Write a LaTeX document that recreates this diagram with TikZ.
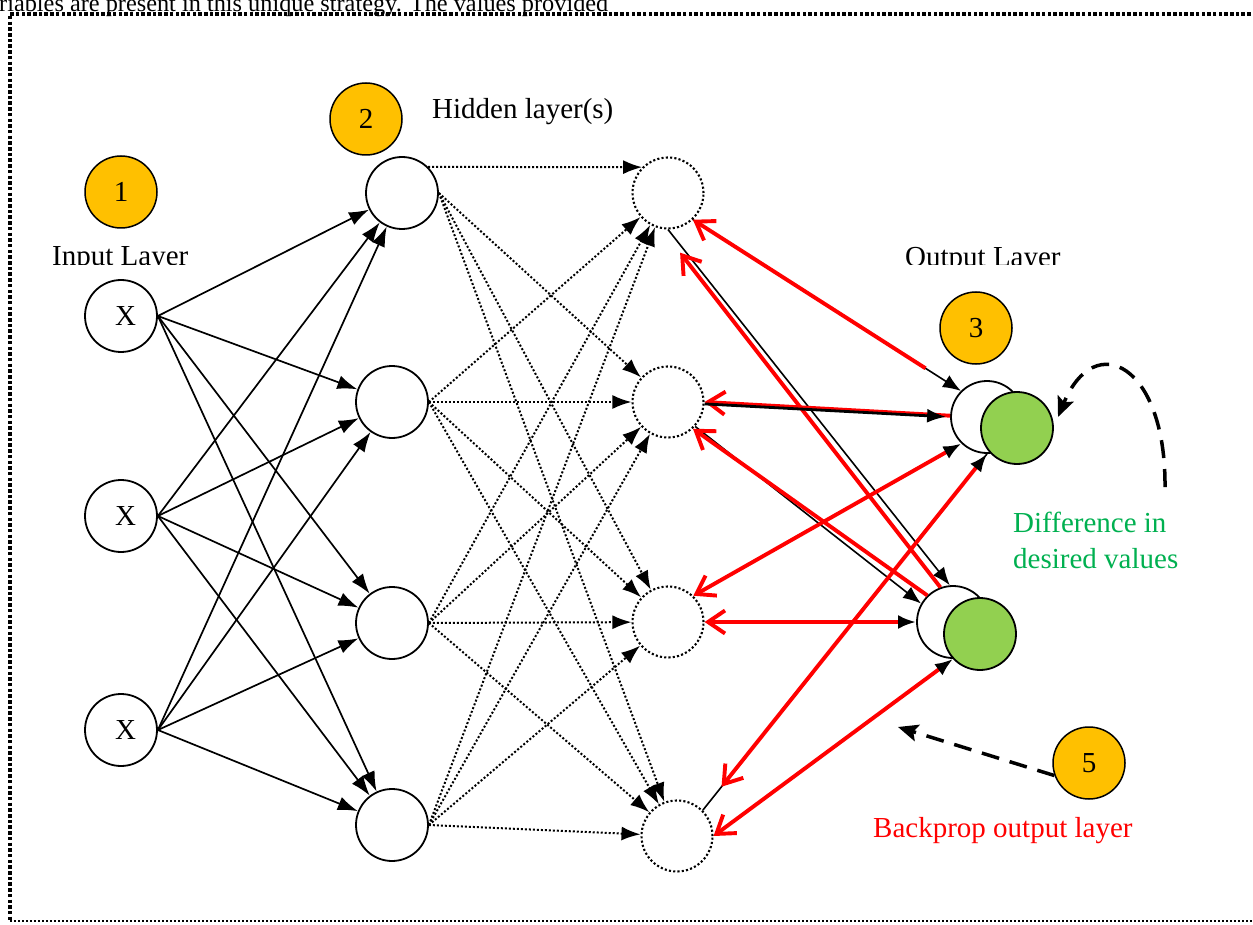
\documentclass[tikz,border=0pt]{standalone}
\usepackage{fontspec}
\setmainfont{Liberation Serif}
\usetikzlibrary{arrows.meta}
\definecolor{gold}{HTML}{FFC000}
\definecolor{lgreen}{HTML}{92D050}
\definecolor{tgreen}{HTML}{00B050}
\definecolor{bred}{HTML}{FF0000}
\begin{document}
\begin{tikzpicture}[x=1pt,y=-1pt,
  big/.style={font=\fontsize{29}{34}\selectfont},
  lbl/.style={big, inner sep=0pt, anchor=base west},
  badge/.style={circle, draw, line width=1.5pt, fill=gold, minimum size=72pt, inner sep=0pt, big},
  neuron/.style={circle, draw, line width=1.8pt, fill=white, minimum size=72pt, inner sep=0pt, big},
  dneuron/.style={circle, draw, line width=2.1pt, dash pattern=on 2.1pt off 2.2pt, minimum size=71pt, inner sep=0pt},
  gneuron/.style={circle, draw, line width=1.8pt, fill=lgreen, minimum size=72pt, inner sep=0pt},
  frame/.style={line width=3.5pt, dash pattern=on 3.5pt off 2.2pt},
  framebot/.style={line width=2pt, dash pattern=on 2pt off 2pt},
  fwd/.style={line width=1.7pt, -{Latex[length=20pt,width=14pt]}},
  dfwd/.style={line width=2pt, dash pattern=on 2pt off 2pt, -{Latex[length=19pt,width=14pt]}},
  ofwd/.style={line width=1.6pt, -{Latex[length=18pt,width=14pt]}},
  back/.style={draw=bred, line width=3.9pt, -{Straight Barb[length=17pt,width=23pt]}},
  backh/.style={draw=bred, line width=3.9pt, {Latex[black,length=18pt,width=14pt]}-{Straight Barb[length=17pt,width=23pt]}},
  dasharr/.style={line width=3.5pt, dash pattern=on 18pt off 11pt, -{Stealth[length=20pt,width=17pt,inset=4pt]}}
]
\useasboundingbox (0,0) rectangle (1253,925);

% frame
\draw[frame] (1262,14) -- (10,14) -- (10,921);
\draw[framebot] (10,921) -- (1262,921);

% top text
\node[inner sep=0pt, anchor=base west, font=\fontsize{24.3}{28}\selectfont] (toptext) at (-1,12) {riables are present in this unique strategy. The values provided};

% badges and labels
\node[badge] (b1) at (121,192) {1};
\node[badge] (b2) at (366,119) {2};
\node[badge] (b3) at (976,328) {3};
\node[badge] (b5) at (1089,763) {5};
\node[lbl] (hidlbl) at (432,119) {Hidden layer(s)};
\begin{scope}
  \clip (0,0) rectangle (1253,265);
  \node[lbl] (inlbl) at (52,266) {Input Layer};
  \node[lbl] (outlbl) at (905,267) {Output Layer};
\end{scope}
\node[lbl, text=tgreen] (diff1) at (1013,532) {Difference in};
\node[lbl, text=tgreen] (diff2) at (1013,568) {desired values};
\node[lbl, text=bred] (bp) at (873,837) {Backprop output layer};

% input layer
\node[neuron] (x1) at (121,316) {\hspace*{9pt}X};
\node[neuron] (x2) at (121,516) {\hspace*{9pt}X};
\node[neuron] (x3) at (121,730) {\hspace*{9pt}X};

% hidden layer 1
\node[neuron] (h11) at (402,193) {};
\node[neuron] (h12) at (392,402) {};
\node[neuron] (h13) at (392,623) {};
\node[neuron] (h14) at (392,825) {};

% hidden layer 2
\node[dneuron] (h21) at (668,193) {};
\node[dneuron] (h22) at (668,402) {};
\node[dneuron] (h23) at (668,622) {};
\node[dneuron] (h24) at (677,836) {};

% output layer
\node[neuron] (o1w) at (987,417) {};
\node[gneuron] (o1g) at (1017,428) {};
\node[neuron] (o2w) at (953,622) {};
\node[gneuron] (o2g) at (980,634) {};

% input -> hidden 1
\foreach \i in {1,2,3}{
  \foreach \j in {1,2,3,4}{
    \draw[fwd] (x\i.east) -- (h1\j);
  }
}

% hidden 1 -> hidden 2
\draw[dfwd] (h11.45) -- (h21.135);
\foreach \j in {2,3,4}{ \draw[dfwd] (h11.east) -- (h2\j); }
\foreach \i in {2,3,4}{
  \foreach \j in {1,2,3,4}{
    \draw[dfwd] (h1\i.east) -- (h2\j);
  }
}

% hidden 2 -> output (forward, black)
\draw[ofwd] (h21.-47) -- (o1w.135);
\draw[ofwd] (h21.-90) -- (o2w.95);
\draw[ofwd] (h22.-42) -- (o2w.150);
\draw[line width=1.6pt] (h24.45) -- (o1w.-90);

% backprop (red)
\draw[back, shorten <=42pt] (o1w.135) -- (h21.-47);
\draw[back, shorten >=30pt] (o2w.110) -- (h21.-100);
\draw[back] (o1w.178) -- (h22.0);
\draw[back] (o2w.134) -- (h22.-47);
\draw[backh] (o1w.-134) -- (h23.46);
\draw[backh] (o2w.180) -- (h23.0);
\draw[backh, shorten >=30pt] (o1w.-90) -- (h24.45);
\draw[backh] (o2w.-90) -- (h24.0);

% thick forward arrow over red
\draw[line width=2.8pt, -{Latex[length=19pt,width=14pt]}, shorten >=4pt] (h22.-3) -- (o1w.180);

% dashed annotation arrows
\coordinate (cstart) at (1165,487);
\coordinate (cend) at (1058,417);
\draw[dasharr] (cstart) .. controls (1166,365) and (1095,328) .. (cend);
\coordinate (dend) at (898,727);
\draw[dasharr] (b5.200) -- (dend);
\end{tikzpicture}
\end{document}
